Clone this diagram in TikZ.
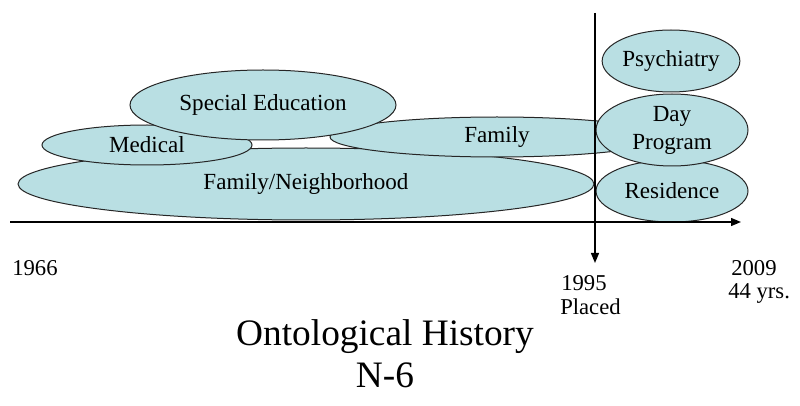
\documentclass[tikz,border=0pt]{standalone}
\usepackage{fontspec}
\setmainfont{Liberation Serif}
\usetikzlibrary{shapes.geometric,arrows.meta}
\definecolor{bubble}{RGB}{185,223,227}
\begin{document}
\begin{tikzpicture}[x=0.75pt,y=-0.75pt,
  bub/.style n args={2}{ellipse, draw=black!85, line width=0.75pt, fill=bubble,
    inner sep=0pt, minimum width=#1*1.5pt, minimum height=#2*1.5pt,
    font=\fontsize{17.3}{21}\selectfont, align=center},
  lbl/.style={anchor=base west, inner sep=0pt, font=\fontsize{17}{18}\selectfont},
  ttl/.style={anchor=base, inner sep=0pt, font=\fontsize{28}{32}\selectfont},
  axisline/.style={line width=1pt, -{Triangle[length=7.5pt,width=6pt]}}]
\useasboundingbox (0,0) rectangle (800,406);

% life domains before placement
\node[bub={288}{36}] (famnb) at (306,184) {Family/Neighborhood};
\node[bub={105}{20}] (med)   at (147,145) {Medical};
\node[bub={167}{20}] (fam)   at (497,137) {Family};
\node[bub={133}{35}] (sped)  at (263,105) {Special Education};

% life domains after placement
\node[bub={68}{31}]  (psy)   at (671,61)  {Psychiatry};
\node[bub={76}{31}]  (res)   at (672,191) {Residence};
\node[bub={76}{36}]  (day)   at (672,130) {Day\\Program};

% time axis and placement marker
\coordinate (axL) at (10,222);
\coordinate (axR) at (741,222);
\coordinate (vT)  at (595,13);
\coordinate (vB)  at (595,263);
\draw[axisline] (axL) -- (axR);
\draw[axisline] (vT) -- (vB);

% dates
\node[lbl] (y1966) at (12,276)  {1966};
\node[lbl] (y1995) at (561,291) {1995};
\node[lbl] (plcd)  at (560,314) {Placed};
\node[lbl] (y2009) at (731,276) {2009};
\node[lbl] (yrs)   at (728,298) {44 yrs.};

% caption
\node[ttl] (title) at (385,345) {Ontological History};
\node[ttl] (code)  at (385,387) {N-6};
\end{tikzpicture}
\end{document}
